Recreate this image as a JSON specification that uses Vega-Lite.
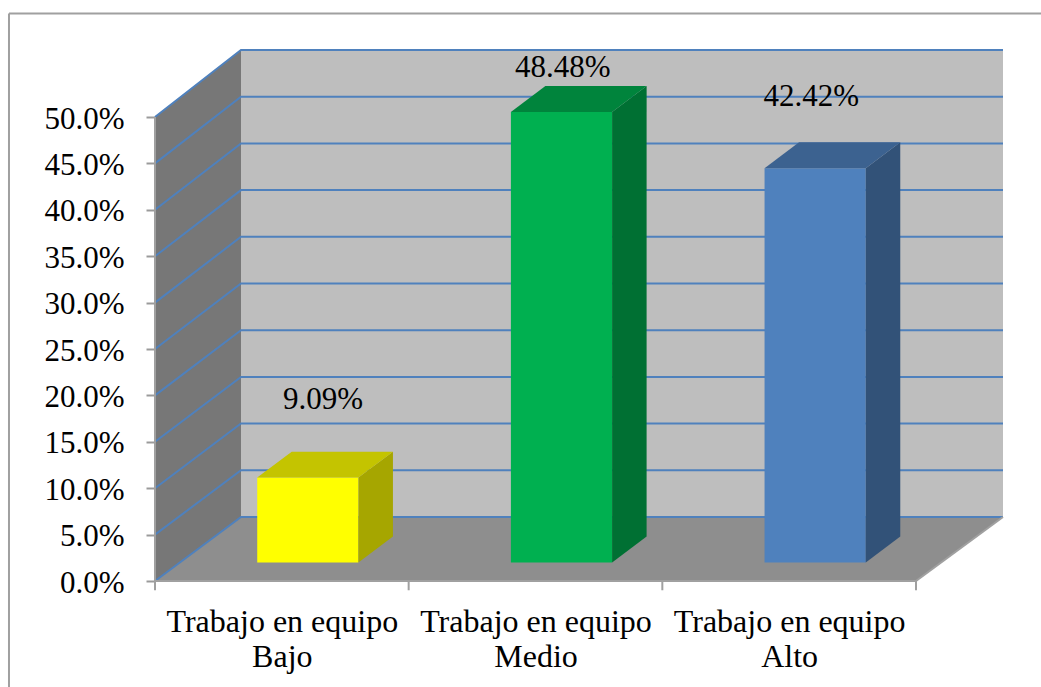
{
"$schema":"https://vega.github.io/schema/vega-lite/v6.json",
"width":848,"height":531,"autosize":"none","padding":{"left":155,"top":50,"right":38,"bottom":106},
"background":"white",
"config":{"view":{"stroke":null},"font":"Liberation Serif"},
"datasets":{
 "walls":[{"wall":"back"}],
 "grid":[{"v":0},{"v":5},{"v":10},{"v":15},{"v":20},{"v":25},{"v":30},{"v":35},{"v":40},{"v":45},{"v":50}],
 "edges":[
  {"id":"frameL","x":-0.5756,"y":-11.42},{"id":"frameL","x":-0.5756,"y":61.15},
  {"id":"frameT","x":-0.5756,"y":61.15},{"id":"frameT","x":3.493,"y":61.15},
  {"id":"axisY","x":0,"y":0},{"id":"axisY","x":0,"y":50},
  {"id":"axisX","x":0,"y":0},{"id":"axisX","x":3,"y":0},
  {"id":"floorR","x":3,"y":0},{"id":"floorR","x":3.343,"y":6.9},
  {"id":"t0","x":0,"y":0},{"id":"t0","x":0,"y":-1},
  {"id":"t1","x":1,"y":0},{"id":"t1","x":1,"y":-1},
  {"id":"t2","x":2,"y":0},{"id":"t2","x":2,"y":-1},
  {"id":"t3","x":3,"y":0},{"id":"t3","x":3,"y":-1}
 ]
},
"data":{"values":[
 {"nivel":"Bajo","valor":9.09},
 {"nivel":"Medio","valor":48.48},
 {"nivel":"Alto","valor":42.42}
]},
"transform":[
 {"calculate":"indexof(['Bajo','Medio','Alto'],datum.nivel)","as":"i"},
 {"calculate":"datum.i+0.403","as":"l"},
 {"calculate":"datum.i+0.802","as":"r"},
 {"calculate":"2","as":"b"},
 {"calculate":"datum.valor+2.05","as":"t"},
 {"calculate":"format(datum.valor,'.2f')+'%'","as":"etiqueta"}
],
"layer":[
 {"data":{"name":"walls"},
  "transform":[{"calculate":"0.339","as":"x0"},{"calculate":"3.343","as":"x1"},{"calculate":"6.9","as":"y0"},{"calculate":"57.22","as":"y1"}],
  "mark":{"type":"rect","color":"#BEBEBE"},
  "encoding":{
   "x":{"field":"x0","type":"quantitative","title":null,"scale":{"domain":[0,3.343],"nice":false,"zero":false},
     "axis":{"values":[0.5,1.5,2.5],"domain":false,"ticks":false,"grid":false,"labelFont":"Liberation Serif","labelFontSize":32,"labelColor":"#000000","labelPadding":25,"labelLineHeight":35,"labelBaseline":"top","labelAlign":"center","labelLimit":0,"labelOverlap":false,"labelExpr":"['Trabajo en equipo', datum.value<1?'Bajo':datum.value<2?'Medio':'Alto']"}},
   "x2":{"field":"x1"},
   "y":{"field":"y0","type":"quantitative","title":null,"scale":{"domain":[0,57.22],"nice":false,"zero":false},
     "axis":{"values":[0,5,10,15,20,25,30,35,40,45,50],"domain":false,"grid":false,"tickSize":9,"tickWidth":2,"tickColor":"#9A9A9A","labelFont":"Liberation Serif","labelFontSize":31,"labelColor":"#000000","labelPadding":22,"labelOffset":2,"labelOverlap":false,"labelExpr":"format(datum.value,'.1f')+'%'"}},
   "y2":{"field":"y1"}
  }},
 {"data":{"name":"walls"},
  "transform":[{"calculate":"[0,0.339]","as":"x"},{"calculate":"[0,6.9]","as":"y"},{"calculate":"[50,57.22]","as":"y2"},{"flatten":["x","y","y2"]}],
  "mark":{"type":"area","color":"#777777","orient":"vertical"},
  "encoding":{"x":{"field":"x","type":"quantitative","title":null},"y":{"field":"y","type":"quantitative","title":null,"stack":null},"y2":{"field":"y2"}}},
 {"data":{"name":"walls"},
  "transform":[{"calculate":"[0,6.9]","as":"y"},{"calculate":"[0,0.339]","as":"x"},{"calculate":"[3,3.343]","as":"x2"},{"flatten":["y","x","x2"]}],
  "mark":{"type":"area","color":"#8E8E8E","orient":"horizontal"},
  "encoding":{"y":{"field":"y","type":"quantitative","title":null},"x":{"field":"x","type":"quantitative","title":null,"stack":null},"x2":{"field":"x2"}}},
 {"data":{"name":"grid"},
  "transform":[{"calculate":"[0,0.339,3.343]","as":"x"},{"calculate":"[datum.v,6.9+datum.v*1.0064,6.9+datum.v*1.0064]","as":"y"},{"flatten":["x","y"]}],
  "mark":{"type":"line","color":"#4F81BD","strokeWidth":2,"clip":false},
  "encoding":{"x":{"field":"x","type":"quantitative","title":null},"y":{"field":"y","type":"quantitative","title":null},"detail":{"field":"v"}}},
 {"data":{"name":"edges"},
  "mark":{"type":"line","color":"#A0A0A0","strokeWidth":2,"clip":false},
  "encoding":{"x":{"field":"x","type":"quantitative","title":null},"y":{"field":"y","type":"quantitative","title":null},"detail":{"field":"id"}}},
 {"mark":{"type":"rect"},
  "encoding":{"x":{"field":"l","type":"quantitative","title":null},"x2":{"field":"r"},"y":{"field":"b","type":"quantitative","title":null},"y2":{"field":"t"},
   "color":{"field":"nivel","type":"nominal","legend":null,"scale":{"domain":["Bajo","Medio","Alto"],"range":["#FFFF00","#00B050","#4F81BD"]}}}},
 {"transform":[{"calculate":"[datum.r,datum.r+0.136]","as":"xs"},{"calculate":"[datum.b,datum.b+2.8]","as":"y0s"},{"calculate":"[datum.t,datum.t+2.8]","as":"y1s"},{"flatten":["xs","y0s","y1s"]}],
  "mark":{"type":"area","orient":"vertical"},
  "encoding":{"x":{"field":"xs","type":"quantitative","title":null},"y":{"field":"y0s","type":"quantitative","title":null,"stack":null},"y2":{"field":"y1s"},
   "color":{"field":"nivel","type":"nominal","legend":null,"scale":{"domain":["Bajo","Medio","Alto"],"range":["#A6A600","#007033","#325278"]}}}},
 {"transform":[{"calculate":"[datum.t,datum.t+2.8]","as":"ys"},{"calculate":"[datum.l,datum.l+0.136]","as":"x0s"},{"calculate":"[datum.r,datum.r+0.136]","as":"x1s"},{"flatten":["ys","x0s","x1s"]}],
  "mark":{"type":"area","orient":"horizontal"},
  "encoding":{"y":{"field":"ys","type":"quantitative","title":null},"x":{"field":"x0s","type":"quantitative","title":null,"stack":null},"x2":{"field":"x1s"},
   "color":{"field":"nivel","type":"nominal","legend":null,"scale":{"domain":["Bajo","Medio","Alto"],"range":["#C4C400","#00843C","#3C6290"]}}}},
 {"transform":[{"calculate":"[0.662,1.608,2.587][datum.i]","as":"tx"},{"calculate":"[19.5,55.3,52.2][datum.i]","as":"ty"}],
  "mark":{"type":"text","font":"Liberation Serif","fontSize":31,"color":"#000000","align":"center","baseline":"middle","clip":false},
  "encoding":{"x":{"field":"tx","type":"quantitative","title":null},"y":{"field":"ty","type":"quantitative","title":null},"text":{"field":"etiqueta","type":"nominal"}}}
],
"resolve":{"scale":{"color":"independent"}}
}
